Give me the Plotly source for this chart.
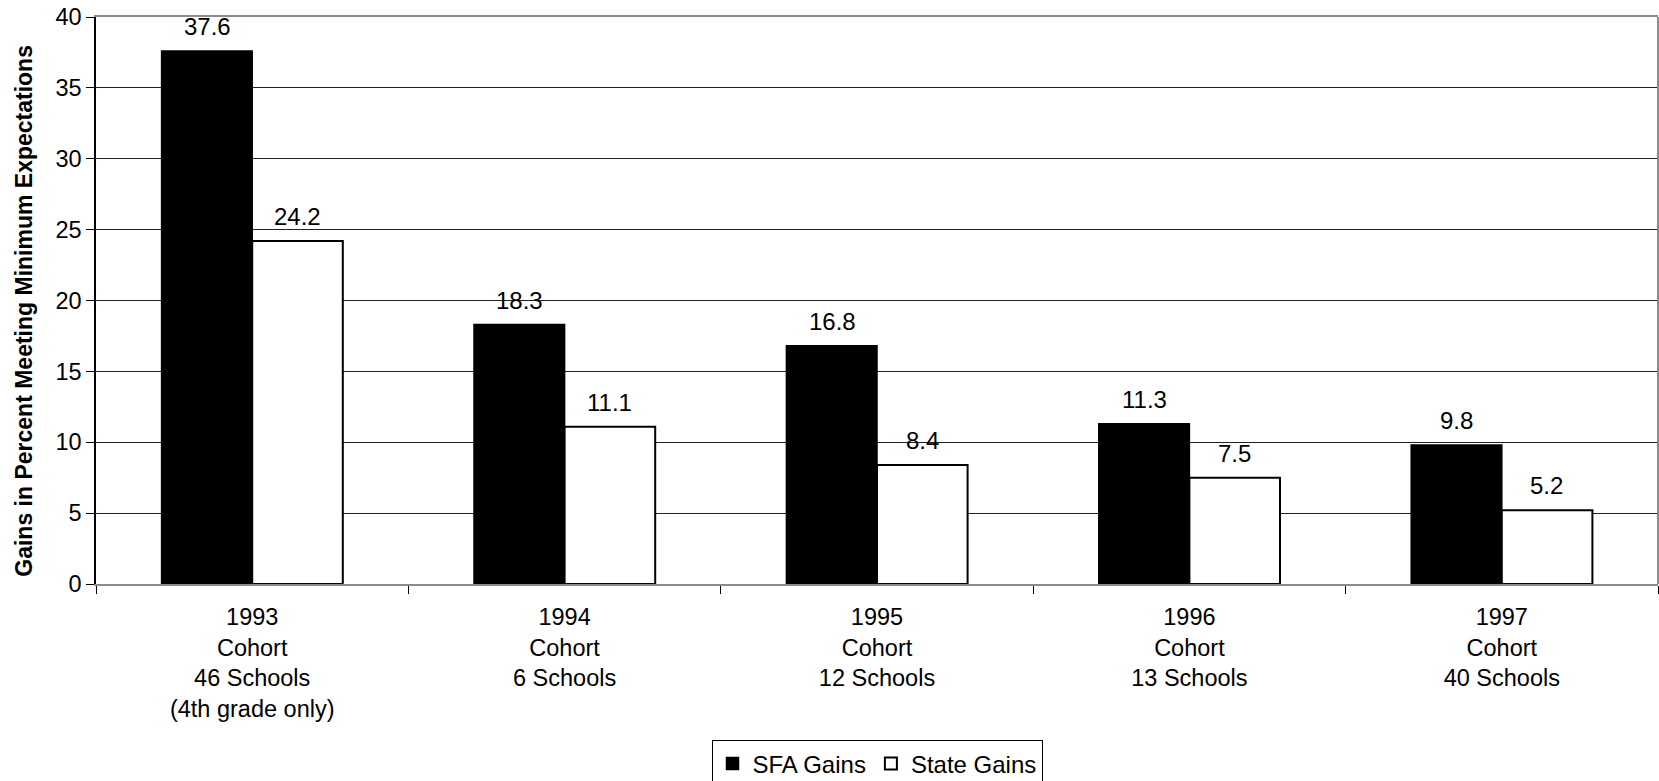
import plotly.graph_objects as go

categories = [
    "1993<br>Cohort<br>46 Schools<br>(4th grade only)",
    "1994<br>Cohort<br>6 Schools",
    "1995<br>Cohort<br>12 Schools",
    "1996<br>Cohort<br>13 Schools",
    "1997<br>Cohort<br>40 Schools",
]
sfa_gains = [37.6, 18.3, 16.8, 11.3, 9.8]
state_gains = [24.2, 11.1, 8.4, 7.5, 5.2]

FONT = "Liberation Sans, Arial, sans-serif"

fig = go.Figure()
fig.add_trace(go.Bar(
    name="SFA Gains", x=categories, y=sfa_gains,
    marker=dict(color="black", line=dict(color="black", width=1.5)),
))
fig.add_trace(go.Bar(
    name="State Gains", x=categories, y=state_gains,
    marker=dict(color="white", line=dict(color="black", width=2)),
))

# value labels above each bar
annotations = []
for series, shift in ((sfa_gains, -45), (state_gains, 45)):
    for cat, v in zip(categories, series):
        annotations.append(dict(
            x=cat, y=v, xref="x", yref="y", text=f"{v:.1f}",
            showarrow=False, xshift=shift, yshift=9, yanchor="bottom",
            font=dict(family=FONT, size=24, color="black"),
        ))

annotations.append(dict(
    text="<b>Gains in Percent Meeting Minimum Expectations</b>",
    xref="paper", yref="paper", x=0, y=0.482, xshift=-87,
    textangle=-90, showarrow=False,
    font=dict(family=FONT, size=23, color="black"),
))

fig.update_layout(
    width=1659, height=781,
    margin=dict(l=96, r=1, t=17, b=197, autoexpand=False),
    paper_bgcolor="white", plot_bgcolor="white",
    barmode="group", bargap=0.42, bargroupgap=0,
    font=dict(family=FONT, size=23.5, color="black"),
    showlegend=True,
    legend=dict(
        orientation="h", x=0.5, xanchor="center", y=-0.276, yanchor="top",
        bordercolor="black", borderwidth=1, font=dict(size=24),
        itemwidth=30, tracegroupgap=0,
    ),
    annotations=annotations,
    shapes=[dict(type="line", xref="paper", yref="paper", x0=1, x1=1, y0=0, y1=1,
                 line=dict(color="#8c8c8c", width=2))],
)
fig.update_xaxes(
    showline=True, linecolor="#8c8c8c", linewidth=2, mirror=True,
    ticks="outside", tickson="boundaries", ticklen=8, tickcolor="black",
    ticklabelstandoff=11, tickfont=dict(size=23.5), showgrid=False,
)
fig.update_yaxes(
    range=[0, 40], dtick=5, showline=True, linecolor="black", linewidth=1.5,
    ticks="outside", ticklen=8, tickcolor="black",
    showgrid=True, gridcolor="#222222", gridwidth=1,
    zeroline=False, tickfont=dict(size=23.5),
)

fig.write_html("out.html")
